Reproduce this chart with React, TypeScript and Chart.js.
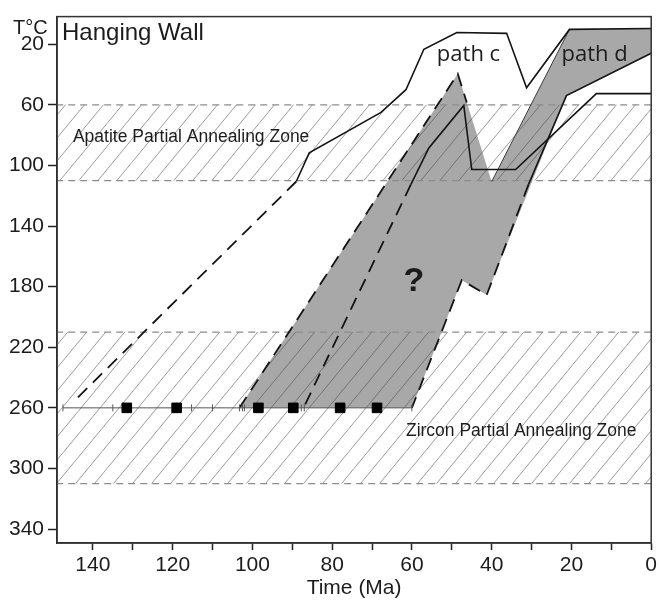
import React, { useEffect, useRef } from 'react';
import { Chart, registerables } from 'chart.js';

Chart.register(...registerables);

// ---- axes ----
const xTicks = [0, 10, 20, 30, 40, 50, 60, 70, 80, 90, 100, 110, 120, 130, 140];
const xLabels = [0, 20, 40, 60, 80, 100, 120, 140];
const yTicks = [20, 60, 100, 140, 180, 220, 260, 300, 340];

// ---- annealing zones (°C) ----
const apazTop = 60;
const apazBottom = 110;
const zpazTop = 210;
const zpazBottom = 310;

// ---- paths: [age Ma, T °C] ----
const pathCOuter = [[89, 110.6], [85.75, 91.7], [67.75, 65], [61.5, 50], [57, 23.3], [48.75, 12.2], [36.25, 12.8], [31.25, 48.7], [20.5, 10.2], [0, 9.6]];
const pathCOuterDashed = [[89, 110.6], [144.5, 255]];
const pathCInner = [[60.25, 112.5], [55.75, 88.4], [47, 60.4], [45, 102.7], [34, 102.7], [13.75, 52.6], [0, 52.6]];
const pathCInnerDashed = [[60.25, 112.5], [87, 259]];
const envelope = [[48.5, 39.5], [40, 110.7], [20.5, 10.2], [0, 9.6], [0, 25.9], [21.25, 53.9], [41.25, 185.5], [47.5, 175.7], [60, 260], [103.25, 260]];
const envelopeLeftDashed = [[103.25, 260], [48.5, 39.5], [46.25, 58.4]];
const envelopeRightSolid = [[0, 25.9], [21.25, 53.9], [30.75, 112.5]];
const envelopeRightDashed = [[30.75, 112.5], [41.25, 185.5], [47.5, 175.7], [60, 260]];
const bandLeftEdge = [[40, 110.7], [20.5, 10.2]];

// ---- zircon samples ----
const sampleT = 260;
const sampleRange = [147.5, 60];
const sampleAges = [131.5, 119, 98.5, 89.75, 78, 68.75];
const errorTicks = [147.5, 135, 115.25, 110, 103.25, 102.5, 102, 87.75, 87, 60];

const X_MAX = 149;
const FONT = '"Liberation Sans", Arial, Helvetica, sans-serif';
const HUMAN = '"Open Sans", "Noto Sans", sans-serif';

const notes = [
  { text: 'Apatite Partial Annealing Zone', ma: 145, t: 84.5, font: `17.5px ${FONT}`, align: 'left' },
  { text: 'Zircon Partial Annealing Zone', ma: 61.5, t: 278.6, font: `17.5px ${FONT}`, align: 'left' },
  { text: 'path c', ma: 53.75, t: 31, font: `22px ${HUMAN}`, align: 'left' },
  { text: 'path d', ma: 22.5, t: 31, font: `22px ${HUMAN}`, align: 'left' },
];

const toPts = (arr: number[][]) => arr.map(([x, y]) => ({ x, y }));

function makeHatch(): CanvasPattern | string {
  const w = 19;
  const h = 23;
  const c = document.createElement('canvas');
  c.width = w;
  c.height = h;
  const g = c.getContext('2d');
  if (!g) return 'rgba(0,0,0,0)';
  g.strokeStyle = 'rgba(70,70,70,0.6)';
  g.lineWidth = 0.9;
  for (const off of [-w, 0, w]) {
    g.beginPath();
    g.moveTo(off, h);
    g.lineTo(off + w, 0);
    g.stroke();
  }
  return g.createPattern(c, 'repeat') || 'rgba(0,0,0,0)';
}

export default function App() {
  const ref = useRef<HTMLCanvasElement>(null);

  useEffect(() => {
    const canvas = ref.current;
    if (!canvas) return;
    const hatch = makeHatch();
    const black = '#141414';
    const dash = [13, 8];
    const none = 'rgba(0,0,0,0)';

    const line = (data: number[][], extra: any = {}) => ({
      data: toPts(data),
      showLine: true,
      pointRadius: 0,
      borderColor: black,
      borderWidth: 1.6,
      fill: false,
      tension: 0,
      ...extra,
    });
    const zoneLine = (t: number) =>
      line([[0, t], [X_MAX, t]], { borderColor: '#8c8c8c', borderWidth: 1.3, borderDash: [7, 5], order: 6 });

    const overlay = {
      id: 'overlay',
      afterDatasetsDraw(chart: any) {
        const { ctx, chartArea: a, scales } = chart;
        const sx = scales.x;
        const sy = scales.y;
        ctx.save();
        ctx.strokeStyle = '#333';
        ctx.lineWidth = 1.5;
        ctx.strokeRect(a.left, a.top, a.right - a.left, a.bottom - a.top);
        ctx.fillStyle = '#1c1c1c';
        ctx.textBaseline = 'alphabetic';
        for (const n of notes) {
          ctx.font = n.font;
          ctx.textAlign = n.align;
          ctx.fillText(n.text, sx.getPixelForValue(n.ma), sy.getPixelForValue(n.t));
        }
        ctx.font = `24px ${FONT}`;
        ctx.textAlign = 'left';
        ctx.fillText('Hanging Wall', a.left + 5, a.top + 23);
        ctx.font = `20px ${FONT}`;
        ctx.fillText('T°C', a.left - 44, a.top + 17);
        ctx.font = `bold 34px ${FONT}`;
        ctx.textAlign = 'center';
        ctx.textBaseline = 'middle';
        ctx.fillText('?', sx.getPixelForValue(59.5), sy.getPixelForValue(177));
        ctx.restore();
      },
    };

    const chart = new Chart(canvas, {
      type: 'line',
      data: {
        datasets: [
          line(envelope, { borderColor: none, borderWidth: 0, backgroundColor: '#a8a8a8', fill: 'shape', order: 10 }),
          line([[0, apazTop], [X_MAX, apazTop]], { borderColor: none, backgroundColor: hatch, fill: { value: apazBottom }, order: 8 }),
          line([[0, zpazTop], [X_MAX, zpazTop]], { borderColor: none, backgroundColor: hatch, fill: { value: zpazBottom }, order: 8 }),
          zoneLine(apazTop),
          zoneLine(apazBottom),
          zoneLine(zpazTop),
          zoneLine(zpazBottom),
          line(bandLeftEdge, { borderColor: '#3a3a3a', borderWidth: 1, order: 4 }),
          line(envelopeLeftDashed, { borderDash: dash, borderWidth: 1.8, order: 3 }),
          line(envelopeRightSolid, { order: 3 }),
          line(envelopeRightDashed, { borderDash: dash, borderWidth: 1.8, order: 3 }),
          line(pathCOuter, { order: 3 }),
          line(pathCOuterDashed, { borderDash: dash, borderWidth: 1.8, order: 3 }),
          line(pathCInner, { order: 3 }),
          line(pathCInnerDashed, { borderDash: dash, borderWidth: 1.8, order: 3 }),
          line([[sampleRange[0], sampleT], [sampleRange[1], sampleT]], { borderColor: '#555', borderWidth: 1, order: 2 }),
          {
            data: errorTicks.map((x) => ({ x, y: sampleT })),
            showLine: false,
            pointStyle: 'line',
            pointRotation: 90,
            pointRadius: 3.5,
            pointBorderColor: '#555',
            pointBorderWidth: 1,
            order: 1,
          },
          {
            data: sampleAges.map((x) => ({ x, y: sampleT })),
            showLine: false,
            pointStyle: 'rect',
            pointRadius: 6.8,
            pointBackgroundColor: '#000',
            pointBorderColor: '#000',
            pointBorderWidth: 1,
            order: 0,
          },
        ] as any,
      },
      options: {
        animation: false,
        responsive: true,
        maintainAspectRatio: false,
        layout: { padding: { top: 10, right: 6, left: 0, bottom: 0 } },
        plugins: { legend: { display: false }, tooltip: { enabled: false } },
        scales: {
          x: {
            type: 'linear',
            reverse: true,
            min: 0,
            max: X_MAX,
            afterBuildTicks: (s: any) => {
              s.ticks = xTicks.map((v) => ({ value: v }));
            },
            afterFit: (s: any) => {
              s.height = 60;
            },
            grid: { display: true, drawOnChartArea: false, drawTicks: true, tickLength: 7, tickWidth: 1.5, tickColor: '#222' },
            border: { display: true, color: '#222', width: 1.5 },
            ticks: {
              autoSkip: false,
              maxRotation: 0,
              padding: 3,
              color: '#1c1c1c',
              font: { family: FONT, size: 21 },
              callback: (v: any) => (xLabels.includes(Number(v)) ? String(v) : ''),
            },
            title: { display: true, text: 'Time (Ma)', color: '#1c1c1c', font: { family: FONT, size: 21 }, padding: { top: 0, bottom: 2 } },
          },
          y: {
            type: 'linear',
            reverse: true,
            min: 1.75,
            max: 349.2,
            afterBuildTicks: (s: any) => {
              s.ticks = yTicks.map((v) => ({ value: v }));
            },
            afterFit: (s: any) => {
              s.width = 57;
            },
            grid: { display: true, drawOnChartArea: false, drawTicks: true, tickLength: 9, tickWidth: 1.5, tickColor: '#222' },
            border: { display: true, color: '#222', width: 1.5 },
            ticks: {
              autoSkip: false,
              padding: 4,
              color: '#1c1c1c',
              font: { family: FONT, size: 21 },
              callback: (v: any) => String(v),
            },
          },
        },
      },
      plugins: [overlay],
    } as any);

    return () => chart.destroy();
  }, []);

  return (
    <div style={{ position: 'absolute', left: 0, top: 0, width: 659, height: 603 }}>
      <canvas ref={ref} />
    </div>
  );
}
